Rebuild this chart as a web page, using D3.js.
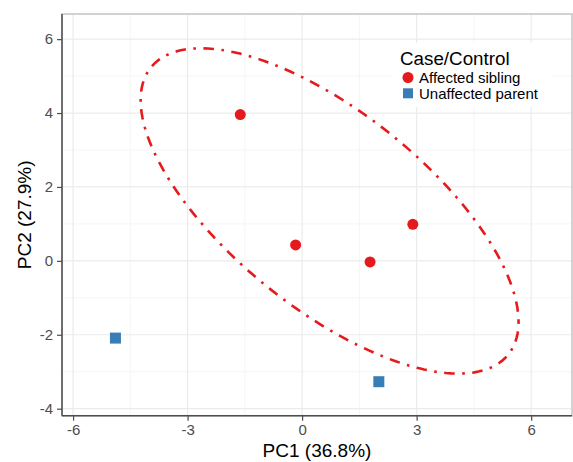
<!DOCTYPE html>
<html><head><meta charset="utf-8">
<script src="https://cdn.jsdelivr.net/npm/d3@7"></script>
<style>body{margin:0;background:#fff;} text{font-family:"Liberation Sans",Arial,sans-serif;}</style>
</head><body>
<svg id="c" width="573" height="462"></svg>
<script>
// Data
const groups = ["Affected sibling", "Unaffected parent"];
const colors = ["#E41A1C", "#377EB8"];
const pc1 = [-1.62, -0.17, 1.78, 2.90, -4.89, 2.01];
const pc2 = [3.96, 0.43, -0.03, 0.99, -2.09, -3.27];
const group = [0, 0, 0, 0, 1, 1];
const xTicks = [-6, -3, 0, 3, 6];
const yTicks = [-4, -2, 0, 2, 4, 6];
const xMinor = [-4.5, -1.5, 1.5, 4.5];
const yMinor = [-3, -1, 1, 3, 5];
// ellipse (stat_ellipse of affected siblings) : center & shape matrix
const ellipseCenter = [0.72, 1.35];
const ellipseShape = [[4.95, 0], [-3.0, 3.22]];

const svg = d3.select("#c");
const L = 62, R = 572, T = 14, B = 415.7;
const x = d3.scaleLinear().domain([-6.29, 7.07]).range([L, R]);
const y = d3.scaleLinear().domain([-4.19, 6.68]).range([B, T]);

// panel
svg.append("rect").attr("x", L).attr("y", T).attr("width", R - L).attr("height", B - T)
  .attr("fill", "#fff");
const grid = svg.append("g");
grid.selectAll(".xm").data(xMinor).join("line")
  .attr("x1", d => x(d)).attr("x2", d => x(d)).attr("y1", T).attr("y2", B)
  .attr("stroke", "#F2F2F2").attr("stroke-width", 0.8);
grid.selectAll(".ym").data(yMinor).join("line")
  .attr("y1", d => y(d)).attr("y2", d => y(d)).attr("x1", L).attr("x2", R)
  .attr("stroke", "#F2F2F2").attr("stroke-width", 0.8);
grid.selectAll(".xM").data(xTicks).join("line")
  .attr("x1", d => x(d)).attr("x2", d => x(d)).attr("y1", T).attr("y2", B)
  .attr("stroke", "#EBEBEB").attr("stroke-width", 1.2);
grid.selectAll(".yM").data(yTicks).join("line")
  .attr("y1", d => y(d)).attr("y2", d => y(d)).attr("x1", L).attr("x2", R)
  .attr("stroke", "#EBEBEB").attr("stroke-width", 1.2);
svg.append("rect").attr("x", L).attr("y", T).attr("width", R - L).attr("height", B - T)
  .attr("fill", "none").attr("stroke", "#C4C4C4").attr("stroke-width", 1.5);

// legend background (hides grid)
svg.append("rect").attr("x", 393).attr("y", 43).attr("width", 159).attr("height", 64).attr("fill", "#fff");

// ellipse
const ts = d3.range(0, 361, 2).map(d => d * Math.PI / 180);
const ell = ts.map(t => [
  ellipseCenter[0] + ellipseShape[0][0] * Math.cos(t) + ellipseShape[0][1] * Math.sin(t),
  ellipseCenter[1] + ellipseShape[1][0] * Math.cos(t) + ellipseShape[1][1] * Math.sin(t)
]);
svg.append("path").datum(ell)
  .attr("d", d3.line().x(d => x(d[0])).y(d => y(d[1])))
  .attr("fill", "none").attr("stroke", colors[0]).attr("stroke-width", 2.6)
  .attr("stroke-dasharray", "2.6,7.5,10.5,7.5");

// points
const pts = pc1.map((v, i) => ({x: v, y: pc2[i], g: group[i]}));
svg.selectAll(".pt").data(pts.filter(d => d.g === 0)).join("circle")
  .attr("cx", d => x(d.x)).attr("cy", d => y(d.y)).attr("r", 5.5).attr("fill", colors[0]);
svg.selectAll(".sq").data(pts.filter(d => d.g === 1)).join("rect")
  .attr("x", d => x(d.x) - 5.5).attr("y", d => y(d.y) - 5.5).attr("width", 11).attr("height", 11)
  .attr("fill", colors[1]);

// axes
const fmt = d => String(d);
const ax = svg.append("g").attr("transform", `translate(0,${B})`)
  .call(d3.axisBottom(x).tickValues(xTicks).tickFormat(fmt).tickSize(5).tickPadding(4).tickSizeOuter(0));
const ay = svg.append("g").attr("transform", `translate(${L},0)`)
  .call(d3.axisLeft(y).tickValues(yTicks).tickFormat(fmt).tickSize(5).tickPadding(4).tickSizeOuter(0));
[ax, ay].forEach(a => {
  a.select(".domain").attr("stroke", "#4D4D4D").attr("stroke-width", 1.5);
  a.selectAll(".tick line").attr("stroke", "#4D4D4D").attr("stroke-width", 1.2);
  a.selectAll(".tick text").attr("fill", "#4D4D4D").style("font-size", "15px")
    .style("font-family", '"Liberation Sans",Arial,sans-serif');
});
ax.select(".domain").attr("d", `M${L},0H${R}`);
ay.select(".domain").attr("d", `M0,${B}V${T}`);

// axis titles
svg.append("text").attr("x", (L + R) / 2).attr("y", 457).attr("text-anchor", "middle")
  .style("font-size", "19px").attr("fill", "#000").text("PC1 (36.8%)");
svg.append("text").attr("transform", `translate(31,${(T + B) / 2}) rotate(-90)`).attr("text-anchor", "middle")
  .style("font-size", "19px").attr("fill", "#000").text("PC2 (27.9%)");

// legend
svg.append("text").attr("x", 400).attr("y", 64.5).style("font-size", "18.8px").text("Case/Control");
const lg = svg.append("g");
groups.forEach((g, i) => {
  const cy = 77.5 + i * 15.8;
  if (i === 0) lg.append("circle").attr("cx", 408).attr("cy", cy).attr("r", 5.5).attr("fill", colors[i]);
  else lg.append("rect").attr("x", 403).attr("y", cy - 5).attr("width", 10).attr("height", 10).attr("fill", colors[i]);
  lg.append("text").attr("x", 419).attr("y", cy + 5.4).style("font-size", "15px").text(g);
});
</script>
</body></html>
